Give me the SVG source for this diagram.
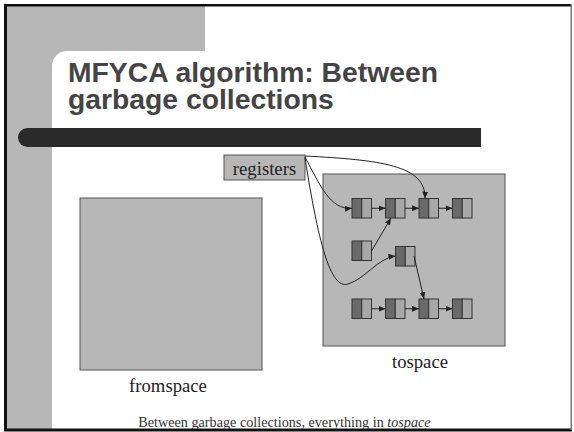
<svg xmlns="http://www.w3.org/2000/svg" width="574" height="432" viewBox="0 0 574 432">
  <style>
    .title { font-family: "Liberation Sans", Arial, sans-serif; font-weight: bold; font-size: 28.3px; fill: #444; }
    .label { font-family: "Liberation Serif", "Times New Roman", serif; font-size: 18.7px; fill: #222; }
    .caption { font-family: "Liberation Serif", "Times New Roman", serif; font-size: 14.2px; fill: #333; }
    .space { fill: #b7b7b7; stroke: #555; stroke-width: 1; }
    .head { fill: #6a6a6a; stroke: #333; stroke-width: 1; }
    .tail { fill: #a8a8a8; stroke: #333; stroke-width: 1; }
    .edge { fill: none; stroke: #222; stroke-width: 1; marker-end: url(#arrow); }
  </style>
  <defs>
    <marker id="arrow" markerWidth="8" markerHeight="6" refX="7" refY="3" orient="auto" markerUnits="userSpaceOnUse">
      <path d="M0,0 L7,3 L0,6 z" fill="#222"/>
    </marker>
    <!-- a cons cell: dark head half, light tail half -->
    <g id="cell">
      <rect class="head" x="0" y="0" width="9.75" height="19.5"/>
      <rect class="tail" x="9.75" y="0" width="9.75" height="19.5"/>
    </g>
  </defs>

  <!-- slide background -->
  <rect x="0" y="0" width="574" height="432" fill="#fff"/>
  <rect x="7" y="5" width="198" height="60" fill="#b7b7b7"/>
  <rect x="7" y="5" width="45" height="424" fill="#b7b7b7"/>
  <rect x="52" y="51" width="560" height="420" rx="15" ry="15" fill="#fff"/>
  <path d="M27.5,128 H481 V147 H27.5 A9.5,9.5 0 0 1 27.5,128 z" fill="#2a2a2a"/>

  <!-- title -->
  <text class="title" x="68" y="82">MFYCA algorithm: Between</text>
  <text class="title" x="68" y="109">garbage collections</text>

  <!-- semispaces -->
  <g id="fromspace">
    <rect class="space" x="80" y="198" width="182" height="172"/>
    <text class="label" x="168" y="392" text-anchor="middle">fromspace</text>
  </g>
  <g id="tospace">
    <rect class="space" x="323" y="174" width="182" height="172"/>
    <text class="label" x="420" y="368" text-anchor="middle">tospace</text>
  </g>

  <g id="registers">
    <rect class="space" x="224" y="155" width="81" height="25"/>
    <text class="label" x="264.5" y="175" text-anchor="middle">registers</text>
  </g>

  <!-- cells in tospace -->
  <g id="cell-1-1"><use href="#cell" x="352" y="198.5"/></g>
  <g id="cell-1-2"><use href="#cell" x="385.5" y="198.5"/></g>
  <g id="cell-1-3"><use href="#cell" x="419" y="198.5"/></g>
  <g id="cell-1-4"><use href="#cell" x="452.5" y="198.5"/></g>
  <g id="cell-2-1"><use href="#cell" x="352" y="241"/></g>
  <g id="cell-2-2"><use href="#cell" x="395.5" y="246.5"/></g>
  <g id="cell-3-1"><use href="#cell" x="352" y="299"/></g>
  <g id="cell-3-2"><use href="#cell" x="385.5" y="299"/></g>
  <g id="cell-3-3"><use href="#cell" x="419" y="299"/></g>
  <g id="cell-3-4"><use href="#cell" x="452.5" y="299"/></g>

  <!-- pointers -->
  <g id="connectors">
    <path class="edge" d="M371.5,208.25 H385.5"/>
    <path class="edge" d="M405,208.25 H419"/>
    <path class="edge" d="M438.5,208.25 H452.5"/>
    <path class="edge" d="M371.5,308.75 H385.5"/>
    <path class="edge" d="M405,308.75 H419"/>
    <path class="edge" d="M438.5,308.75 H452.5"/>
    <path class="edge" d="M305,156 C380,160 426,165 425,198.5"/>
    <path class="edge" d="M305,157 C320,185 330,210 352,208.25"/>
    <path class="edge" d="M305,158 C318,240 330,290 348,284 C365,279 378,258 395.5,256"/>
    <path class="edge" d="M371.5,251 L391,218"/>
    <path class="edge" d="M414,256 L424,299"/>
  </g>

  <!-- caption -->
  <text class="caption" x="138.3" y="427">Between garbage collections, everything in <tspan font-style="italic">tospace</tspan></text>

  <!-- slide frame -->
  <rect x="4" y="4" width="568" height="2.5" fill="#111"/>
  <rect x="4" y="4" width="3" height="427" fill="#111"/>
  <rect x="4" y="428.5" width="568" height="3" fill="#111"/>
  <rect x="570.5" y="4" width="1.5" height="426" fill="#777"/>
</svg>
